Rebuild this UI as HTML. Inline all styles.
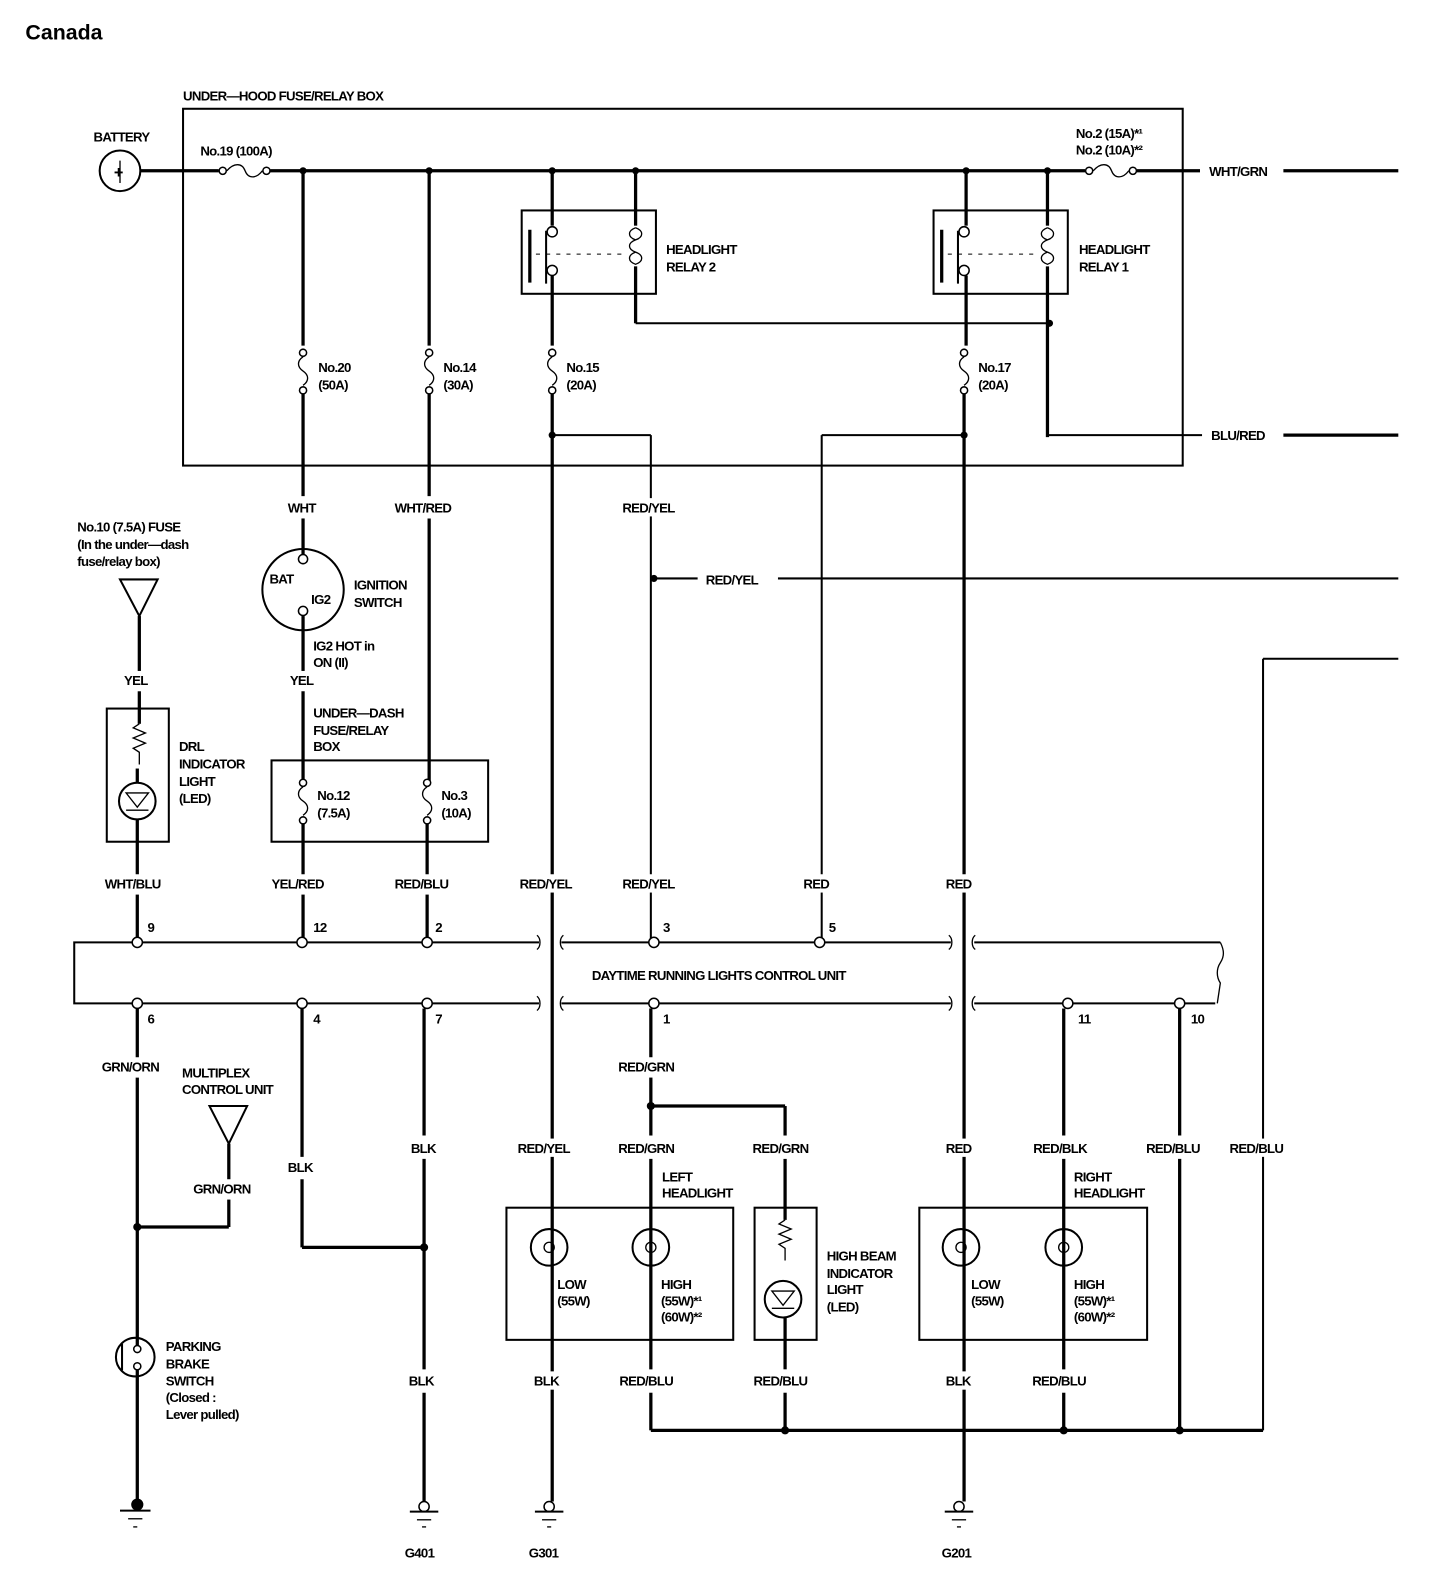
<!DOCTYPE html>
<html><head><meta charset="utf-8"><style>
html,body{margin:0;padding:0;background:#fff;}
svg{display:block}
text{font-family:"Liberation Sans",sans-serif;font-weight:bold;font-size:13px;letter-spacing:-0.7px;fill:#000}
.w{stroke:#000;stroke-width:3.2;fill:none}
.b{stroke:#000;stroke-width:2;fill:none}
.t{stroke:#000;stroke-width:1.3;fill:none}
.o{stroke:#000;stroke-width:1.5;fill:#fff}
.d{stroke:#000;stroke-width:1;stroke-dasharray:4 6;fill:none}
</style></head><body>
<svg width="1440" height="1594" viewBox="0 0 1416 1568" preserveAspectRatio="none" xmlns="http://www.w3.org/2000/svg">
<defs>
<g id="fuse"><circle class="o" cx="0" cy="-20" r="3.5"/><path class="t" d="M0,-16 C-6,-12 -6,-6 0,-2 C6,2 6,8 0,12"/><circle class="o" cx="0" cy="17" r="3.5"/></g>
<g id="gnd"><circle class="o" cx="0" cy="0" r="5"/><line class="b" x1="-14" y1="5" x2="14" y2="5"/><line class="t" x1="-7" y1="13" x2="7" y2="13"/><line class="t" x1="-2" y1="20" x2="2" y2="20"/></g>
</defs>
<text x="25" y="39" style="font-size:21px;letter-spacing:0">Canada</text>

<text x="180" y="99">UNDER—HOOD FUSE/RELAY BOX</text>
<rect class="b" x="180" y="107" width="983" height="351"/>
<text x="92" y="139">BATTERY</text>
<circle class="b" cx="118" cy="168" r="20"/>
<text x="112" y="175" style="font-size:16px">+</text>
<line class="t" x1="118" y1="158" x2="118" y2="180"/>
<line class="w" x1="138" y1="168" x2="215" y2="168"/>
<circle class="o" cx="219" cy="168" r="3.5"/><path class="t" d="M223,168 C230,160 238,160 241,168 C244,176 252,176 258,168"/><circle class="o" cx="262" cy="168" r="3.5"/>
<text x="197" y="153">No.19 (100A)</text>
<line class="w" x1="266" y1="168" x2="1067" y2="168"/>
<circle class="o" cx="1071" cy="168" r="3.5"/><path class="t" d="M1075,168 C1082,160 1090,160 1093,168 C1096,176 1104,176 1110,168"/><circle class="o" cx="1114" cy="168" r="3.5"/>
<line class="w" x1="1118" y1="168" x2="1180" y2="168"/>
<text x="1058" y="136">No.2 (15A)*¹</text>
<text x="1058" y="152">No.2 (10A)*²</text>
<text x="1189" y="173">WHT/GRN</text>
<line class="w" x1="1262" y1="168" x2="1375" y2="168"/>
<g fill="#000"><circle cx="298" cy="168" r="3.5"/><circle cx="422" cy="168" r="3.5"/><circle cx="543" cy="168" r="3.5"/><circle cx="625" cy="168" r="3.5"/><circle cx="950" cy="168" r="3.5"/><circle cx="1030" cy="168" r="3.5"/></g>

<rect class="b" x="513" y="207" width="132" height="82"/>
<line class="w" x1="543" y1="168" x2="543" y2="222"/>
<circle class="o" cx="543" cy="228" r="5"/><circle class="o" cx="543" cy="266" r="5"/>
<line class="b" x1="537" y1="227" x2="537" y2="279"/>
<line class="w" x1="521" y1="226" x2="521" y2="278"/>
<line class="d" x1="527" y1="250" x2="615" y2="250"/>
<path class="t" d="M625,224 c-8,3 -8,9 0,12 c-8,3 -8,9 0,12 c-8,3 -8,9 0,12 c8,-3 8,-9 0,-12 M625,236 c8,-3 8,-9 0,-12"/>
<line class="w" x1="625" y1="168" x2="625" y2="222"/>
<line class="w" x1="625" y1="262" x2="625" y2="318"/>
<text x="655" y="250">HEADLIGHT</text><text x="655" y="267">RELAY 2</text>
<line class="w" x1="543" y1="271" x2="543" y2="340"/>
<use href="#fuse" x="543" y="367"/>
<text x="557" y="366">No.15</text><text x="557" y="383">(20A)</text>
<line class="w" x1="543" y1="388" x2="543" y2="1477"/>
<circle cx="543" cy="428" r="3.5"/>
<line class="b" x1="543" y1="428" x2="640" y2="428"/>
<line class="b" x1="640" y1="428" x2="640" y2="924"/>
<circle cx="643" cy="569" r="3.5"/>
<line class="b" x1="643" y1="569" x2="686" y2="569"/>
<text x="694" y="575">RED/YEL</text>
<line class="b" x1="765" y1="569" x2="1375" y2="569"/>

<rect class="b" x="918" y="207" width="132" height="82"/>
<line class="w" x1="950" y1="168" x2="950" y2="222"/>
<circle class="o" cx="948" cy="228" r="5"/><circle class="o" cx="948" cy="266" r="5"/>
<line class="b" x1="942" y1="227" x2="942" y2="279"/>
<line class="w" x1="926" y1="226" x2="926" y2="278"/>
<line class="d" x1="932" y1="250" x2="1020" y2="250"/>
<path class="t" d="M1030,224 c-8,3 -8,9 0,12 c-8,3 -8,9 0,12 c-8,3 -8,9 0,12 c8,-3 8,-9 0,-12 M1030,236 c8,-3 8,-9 0,-12"/>
<line class="w" x1="1030" y1="168" x2="1030" y2="222"/>
<line class="w" x1="1030" y1="262" x2="1030" y2="430"/>
<text x="1061" y="250">HEADLIGHT</text><text x="1061" y="267">RELAY 1</text>
<line class="b" x1="625" y1="318" x2="1030" y2="318"/><circle cx="1032" cy="318" r="3.5"/>
<line class="w" x1="950" y1="271" x2="950" y2="340"/>
<use href="#fuse" x="948" y="367"/>
<text x="962" y="366">No.17</text><text x="962" y="383">(20A)</text>
<line class="w" x1="948" y1="388" x2="948" y2="1477"/>
<circle cx="948" cy="428" r="3.5"/>
<line class="b" x1="808" y1="428" x2="948" y2="428"/>
<line class="b" x1="808" y1="428" x2="808" y2="924"/>
<line class="b" x1="1030" y1="428" x2="1182" y2="428"/>
<text x="1191" y="433">BLU/RED</text>
<line class="w" x1="1262" y1="428" x2="1375" y2="428"/>
<line class="b" x1="1242" y1="648" x2="1375" y2="648"/>
<line class="b" x1="1242" y1="648" x2="1242" y2="1407"/>

<line class="w" x1="298" y1="168" x2="298" y2="340"/>
<use href="#fuse" x="298" y="367"/>
<text x="313" y="366">No.20</text><text x="313" y="383">(50A)</text>
<line class="w" x1="298" y1="388" x2="298" y2="488"/>
<text x="283" y="504">WHT</text>
<line class="w" x1="298" y1="510" x2="298" y2="546"/>
<circle class="b" cx="298" cy="580" r="40"/>
<circle class="o" cx="298" cy="550" r="4.5"/><circle class="o" cx="298" cy="601" r="4.5"/>
<text x="265" y="574">BAT</text><text x="306" y="594">IG2</text>
<text x="348" y="580">IGNITION</text><text x="348" y="597">SWITCH</text>
<text x="308" y="640">IG2 HOT in</text><text x="308" y="656">ON (II)</text>
<line class="w" x1="298" y1="606" x2="298" y2="660"/>
<text x="285" y="674">YEL</text>
<line class="w" x1="298" y1="680" x2="298" y2="770"/>
<text x="308" y="706">UNDER—DASH</text><text x="308" y="723">FUSE/RELAY</text><text x="308" y="739">BOX</text>
<rect class="b" x="267" y="748" width="213" height="80"/>
<use href="#fuse" x="298" y="790"/>
<text x="312" y="787">No.12</text><text x="312" y="804">(7.5A)</text>
<line class="w" x1="298" y1="810" x2="298" y2="860"/>
<text x="267" y="874">YEL/RED</text>
<line class="w" x1="298" y1="880" x2="298" y2="924"/>

<line class="w" x1="422" y1="168" x2="422" y2="340"/>
<use href="#fuse" x="422" y="367"/>
<text x="436" y="366">No.14</text><text x="436" y="383">(30A)</text>
<line class="w" x1="422" y1="388" x2="422" y2="488"/>
<text x="388" y="504">WHT/RED</text>
<line class="w" x1="422" y1="510" x2="422" y2="770"/>
<use href="#fuse" x="420" y="790"/>
<text x="434" y="787">No.3</text><text x="434" y="804">(10A)</text>
<line class="w" x1="420" y1="810" x2="420" y2="860"/>
<text x="388" y="874">RED/BLU</text>
<line class="w" x1="420" y1="880" x2="420" y2="924"/>

<text x="76" y="523">No.10 (7.5A) FUSE</text>
<text x="76" y="540">(In the under—dash</text>
<text x="76" y="557">fuse/relay box)</text>
<path class="b" d="M118,570 L155,570 L137,606 Z"/>
<line class="w" x1="137" y1="606" x2="137" y2="660"/>
<text x="122" y="674">YEL</text>
<line class="w" x1="137" y1="680" x2="137" y2="712"/>
<rect class="b" x="105" y="697" width="61" height="131"/>
<path class="t" d="M137,712 l-6,4 l12,5 l-12,5 l12,5 l-12,5 l6,4 v12"/>
<circle class="b" cx="135" cy="788" r="18"/>
<path class="t" d="M124,780 h22 l-11,14 z M124,797 h22"/>
<line class="w" x1="135" y1="756" x2="135" y2="770"/>
<line class="w" x1="135" y1="806" x2="135" y2="860"/>
<text x="176" y="739">DRL</text><text x="176" y="756">INDICATOR</text><text x="176" y="773">LIGHT</text><text x="176" y="790">(LED)</text>
<text x="103" y="874">WHT/BLU</text>
<line class="w" x1="135" y1="880" x2="135" y2="924"/>

<path class="b" d="M530,927 H73 V987 H530"/>
<path class="b" d="M552,927 H935 M958,927 H1200 M552,987 H935 M958,987 H1195"/>
<path class="t" d="M528,920 c4,3 4,11 0,14 M554,920 c-4,3 -4,11 0,14 M528,980 c4,3 4,11 0,14 M554,980 c-4,3 -4,11 0,14 M933,920 c4,3 4,11 0,14 M959,920 c-4,3 -4,11 0,14 M933,980 c4,3 4,11 0,14 M959,980 c-4,3 -4,11 0,14 M1200,927 c4,8 4,14 0,20 c-4,6 -4,14 0,20 l-3,20"/>
<text x="582" y="964">DAYTIME RUNNING LIGHTS CONTROL UNIT</text>
<g>
<circle class="o" cx="135" cy="927" r="5"/><circle class="o" cx="297" cy="927" r="5"/><circle class="o" cx="420" cy="927" r="5"/><circle class="o" cx="643" cy="927" r="5"/><circle class="o" cx="806" cy="927" r="5"/>
<circle class="o" cx="135" cy="987" r="5"/><circle class="o" cx="297" cy="987" r="5"/><circle class="o" cx="420" cy="987" r="5"/><circle class="o" cx="643" cy="987" r="5"/><circle class="o" cx="1050" cy="987" r="5"/><circle class="o" cx="1160" cy="987" r="5"/>
</g>
<text x="145" y="917">9</text><text x="308" y="917">12</text><text x="428" y="917">2</text><text x="652" y="917">3</text><text x="815" y="917">5</text>
<text x="145" y="1007">6</text><text x="308" y="1007">4</text><text x="428" y="1007">7</text><text x="652" y="1007">1</text><text x="1060" y="1007">11</text><text x="1171" y="1007">10</text>

<line class="w" x1="135" y1="992" x2="135" y2="1040"/>
<text x="100" y="1054">GRN/ORN</text>
<line class="w" x1="135" y1="1060" x2="135" y2="1325"/>
<text x="179" y="1060">MULTIPLEX</text><text x="179" y="1076">CONTROL UNIT</text>
<path class="b" d="M206,1088 L243,1088 L225,1125 Z"/>
<line class="w" x1="225" y1="1125" x2="225" y2="1160"/>
<text x="190" y="1174">GRN/ORN</text>
<line class="w" x1="225" y1="1180" x2="225" y2="1207"/>
<line class="w" x1="135" y1="1207" x2="225" y2="1207"/><circle cx="135" cy="1207" r="4"/>
<circle class="b" cx="133" cy="1335" r="19"/>
<line class="b" x1="120" y1="1322" x2="120" y2="1348"/>
<circle class="o" cx="135" cy="1327" r="3.5"/><circle class="o" cx="135" cy="1344" r="3.5"/>
<line class="w" x1="135" y1="1348" x2="135" y2="1477"/>
<circle cx="135" cy="1480" r="6"/>
<line class="b" x1="118" y1="1486" x2="148" y2="1486"/><line class="t" x1="126" y1="1494" x2="140" y2="1494"/><line class="t" x1="131" y1="1502" x2="135" y2="1502"/>
<text x="163" y="1329">PARKING</text><text x="163" y="1346">BRAKE</text><text x="163" y="1363">SWITCH</text><text x="163" y="1379">(Closed :</text><text x="163" y="1396">Lever pulled)</text>

<line class="w" x1="297" y1="992" x2="297" y2="1138"/>
<text x="283" y="1153">BLK</text>
<line class="w" x1="297" y1="1160" x2="297" y2="1227"/>
<line class="w" x1="297" y1="1227" x2="417" y2="1227"/><circle cx="417" cy="1227" r="4"/>
<line class="w" x1="417" y1="992" x2="417" y2="1117"/>
<text x="404" y="1134">BLK</text>
<line class="w" x1="417" y1="1140" x2="417" y2="1347"/>
<text x="402" y="1363">BLK</text>
<line class="w" x1="417" y1="1370" x2="417" y2="1477"/>
<use href="#gnd" x="417" y="1482"/>
<text x="398" y="1532">G401</text>

<rect class="b" x="498" y="1188" width="223" height="130"/>
<circle class="b" cx="540" cy="1227" r="18"/><circle class="t" cx="540" cy="1227" r="5"/>
<circle class="b" cx="640" cy="1227" r="18"/><circle class="t" cx="640" cy="1227" r="5"/>
<text x="548" y="1268">LOW</text><text x="548" y="1284">(55W)</text>
<text x="650" y="1268">HIGH</text><text x="650" y="1284">(55W)*¹</text><text x="650" y="1300">(60W)*²</text>
<text x="651" y="1162">LEFT</text><text x="651" y="1178">HEADLIGHT</text>
<use href="#gnd" x="540" y="1482"/>
<text x="520" y="1532">G301</text>

<line class="w" x1="640" y1="992" x2="640" y2="1040"/>
<text x="608" y="1054">RED/GRN</text>
<line class="w" x1="640" y1="1060" x2="640" y2="1117"/>
<line class="w" x1="640" y1="1088" x2="772" y2="1088"/><circle cx="640" cy="1088" r="4"/>
<line class="w" x1="772" y1="1088" x2="772" y2="1117"/>
<text x="608" y="1134">RED/GRN</text>
<text x="740" y="1134">RED/GRN</text>
<line class="w" x1="640" y1="1140" x2="640" y2="1347"/>
<text x="609" y="1363">RED/BLU</text>
<line class="w" x1="640" y1="1370" x2="640" y2="1407"/>

<rect class="b" x="742" y="1188" width="61" height="130"/>
<line class="w" x1="772" y1="1140" x2="772" y2="1200"/>
<path class="t" d="M772,1200 l-6,4 l12,5 l-12,5 l12,5 l-12,5 l6,4 v12"/>
<circle class="b" cx="770" cy="1278" r="18"/>
<path class="t" d="M759,1270 h22 l-11,14 z M759,1287 h22"/>
<line class="w" x1="772" y1="1296" x2="772" y2="1347"/>
<text x="741" y="1363">RED/BLU</text>
<line class="w" x1="772" y1="1370" x2="772" y2="1407"/>
<text x="813" y="1240">HIGH BEAM</text><text x="813" y="1257">INDICATOR</text><text x="813" y="1273">LIGHT</text><text x="813" y="1290">(LED)</text>

<rect class="b" x="904" y="1188" width="224" height="130"/>
<circle class="b" cx="945" cy="1227" r="18"/><circle class="t" cx="945" cy="1227" r="5"/>
<circle class="b" cx="1046" cy="1227" r="18"/><circle class="t" cx="1046" cy="1227" r="5"/>
<text x="955" y="1268">LOW</text><text x="955" y="1284">(55W)</text>
<text x="1056" y="1268">HIGH</text><text x="1056" y="1284">(55W)*¹</text><text x="1056" y="1300">(60W)*²</text>
<text x="1056" y="1162">RIGHT</text><text x="1056" y="1178">HEADLIGHT</text>
<use href="#gnd" x="943" y="1482"/>
<text x="926" y="1532">G201</text>

<line class="w" x1="1046" y1="992" x2="1046" y2="1117"/>
<text x="1016" y="1134">RED/BLK</text>
<line class="w" x1="1046" y1="1140" x2="1046" y2="1347"/>
<text x="1015" y="1363">RED/BLU</text>
<line class="w" x1="1046" y1="1370" x2="1046" y2="1407"/>
<line class="w" x1="1160" y1="992" x2="1160" y2="1117"/>
<text x="1127" y="1134">RED/BLU</text>
<line class="w" x1="1160" y1="1140" x2="1160" y2="1407"/>
<line class="w" x1="640" y1="1407" x2="1242" y2="1407"/>
<circle cx="772" cy="1407" r="4"/><circle cx="1046" cy="1407" r="4"/><circle cx="1160" cy="1407" r="4"/>

<!-- labels with line breaks -->
<g fill="#fff">
<rect x="611" y="490" width="56" height="18"/>
<rect x="510" y="860" width="56" height="18"/>
<rect x="611" y="860" width="56" height="18"/>
<rect x="789" y="860" width="30" height="18"/>
<rect x="929" y="860" width="30" height="18"/>
<rect x="508" y="1120" width="56" height="18"/>
<rect x="929" y="1120" width="30" height="18"/>
<rect x="1208" y="1120" width="58" height="18"/>
<rect x="524" y="1349" width="30" height="18"/>
<rect x="929" y="1349" width="30" height="18"/>
</g>
<text x="612" y="504">RED/YEL</text>
<text x="511" y="874">RED/YEL</text>
<text x="612" y="874">RED/YEL</text>
<text x="790" y="874">RED</text>
<text x="930" y="874">RED</text>
<text x="509" y="1134">RED/YEL</text>
<text x="930" y="1134">RED</text>
<text x="1209" y="1134">RED/BLU</text>
<text x="525" y="1363">BLK</text>
<text x="930" y="1363">BLK</text>
</svg>
</body></html>
